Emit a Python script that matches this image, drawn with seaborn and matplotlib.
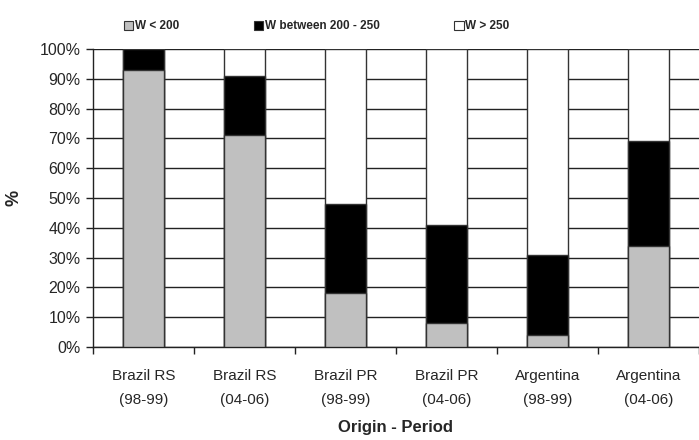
import matplotlib
matplotlib.use("Agg")
import matplotlib.pyplot as plt
import seaborn as sns
import numpy as np
import pandas as pd
from matplotlib.patches import Patch

# values (percent of each group)
categories = ["Brazil RS\n(98-99)", "Brazil RS\n(04-06)", "Brazil PR\n(98-99)",
              "Brazil PR\n(04-06)", "Argentina\n(98-99)", "Argentina\n(04-06)"]
w_below_200 = [93, 71, 18, 8, 4, 34]
w_200_250 = [7, 20, 30, 33, 27, 35]
w_above_250 = [0, 9, 52, 59, 69, 31]

series_names = ["W < 200", "W between 200 - 250", "W > 250"]
series_colors = ["#c0c0c0", "#000000", "#ffffff"]

sns.set_style("white")
plt.rcParams["font.family"] = ["Liberation Sans", "DejaVu Sans"]

df = pd.DataFrame({"cat": categories, "low": w_below_200, "mid": w_200_250, "high": w_above_250})
df["cum_low"] = df["low"]
df["cum_mid"] = df["low"] + df["mid"]
df["cum_high"] = df["cum_mid"] + df["high"]

fig = plt.figure(figsize=(6.99, 4.40), dpi=100)
ax = fig.add_axes([0.133, 0.2114, 0.867, 0.6772])

# grid behind the bars
ax.set_axisbelow(True)
ax.yaxis.grid(True, color="#222222", linewidth=1.0)

# stacked bars drawn from the top segment down
for col, color in zip(["cum_high", "cum_mid", "cum_low"], series_colors[::-1]):
    sns.barplot(data=df, x="cat", y=col, color=color, width=0.4, ax=ax,
                edgecolor="#333333", linewidth=1.0, saturation=1, zorder=3)

ax.set_ylim(0, 100)
ax.set_xlim(-0.5, len(categories) - 0.5)
ax.set_yticks(np.arange(0, 101, 10))
ax.set_yticklabels([f"{v}%" for v in range(0, 101, 10)])
ax.set_xticks(range(len(categories)))
ax.set_xticklabels(categories, linespacing=1.9)
ax.set_xticks(np.arange(-0.5, len(categories), 1.0), minor=True)
ax.tick_params(axis="x", which="major", bottom=True, length=0, pad=16, labelsize=11)
ax.tick_params(axis="x", which="minor", bottom=True, length=5, width=1, color="#222222", direction="out")
ax.tick_params(axis="y", left=True, length=5, width=1, color="#222222", direction="out", labelsize=11.5, pad=4)

for side in ["top", "right"]:
    ax.spines[side].set_visible(False)
for side in ["left", "bottom"]:
    ax.spines[side].set_color("#222222")
    ax.spines[side].set_linewidth(1.0)

ax.set_xlabel("Origin - Period", fontsize=12, fontweight="bold", labelpad=9)
ax.set_ylabel("%", fontsize=13, fontweight="bold", labelpad=12)

handles = [Patch(facecolor=c, edgecolor="#333333", linewidth=0.8) for c in series_colors]
fig.legend(handles, series_names, loc="center", bbox_to_anchor=(0.453, 0.94), ncol=3,
           frameon=False, prop={"weight": "bold", "size": 8.5}, handlelength=0.8,
           handleheight=0.8, handletextpad=0.15, columnspacing=6.3)

fig.savefig("out.png", dpi=100)
